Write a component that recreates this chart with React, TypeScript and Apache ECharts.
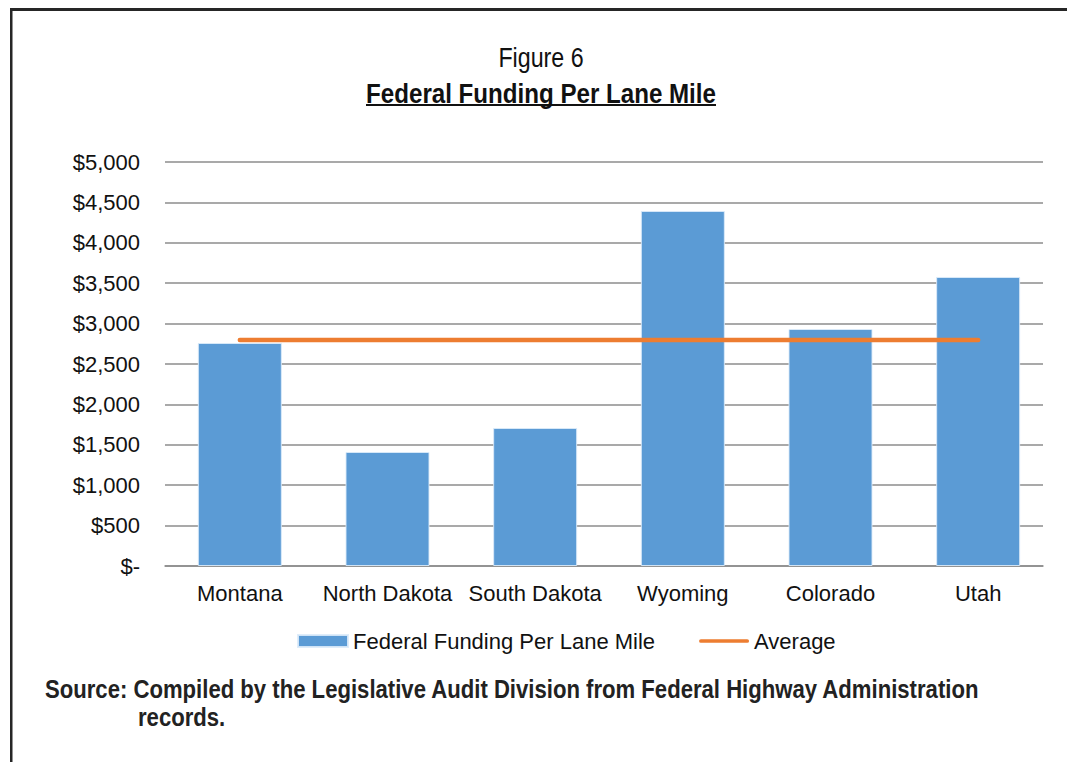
import React, { useEffect, useRef } from "react";
import * as echarts from "echarts";

const categories = ["Montana", "North Dakota", "South Dakota", "Wyoming", "Colorado", "Utah"];
const fundingValues = [2760, 1411, 1708, 4394, 2933, 3577];
const averageValues = [2797, 2797, 2797, 2797, 2797, 2797];
const yTicks = { min: 0, max: 5000, interval: 500 };
const titleLine1 = "Figure 6";
const titleLine2 = "Federal Funding Per Lane Mile";
const sourceLine1 = "Source: Compiled by the Legislative Audit Division from Federal Highway Administration";
const sourceLine2 = "records.";

const FONT = "'Liberation Sans', Arial, Helvetica, sans-serif";
const GRID_COLOR = "#8c8c8c";
const LINE_ICON = "path://M2,0 L52,0 A2,2 0 0 1 52,4 L2,4 A2,2 0 0 1 2,0 Z";

export default function App() {
  const ref = useRef<HTMLDivElement>(null);
  useEffect(() => {
    if (!ref.current) return;
    const chart = echarts.init(ref.current, undefined, { renderer: "svg" });
    chart.setOption({
      animation: false,
      backgroundColor: "#ffffff",
      textStyle: { fontFamily: FONT },
      grid: [
        { left: 165, right: 24, top: 162, bottom: 196, containLabel: false },
        { left: 166, right: 15, top: 162, bottom: 196, containLabel: false },
      ],
      legend: {
        left: 297,
        top: 630,
        padding: 0,
        itemWidth: 50,
        itemHeight: 12,
        itemGap: 44,
        textStyle: { fontSize: 22, color: "#111", fontFamily: FONT },
        data: [
          { name: "Federal Funding Per Lane Mile", icon: "rect" },
          { name: "Average", icon: LINE_ICON, itemStyle: { color: "#ED7D31" } },
        ],
      },
      xAxis: [
        {
          type: "category",
          gridIndex: 0,
          data: categories,
          axisLine: { show: true, lineStyle: { color: GRID_COLOR, width: 1.5 } },
          axisTick: { show: false },
          axisLabel: { show: false },
          splitLine: { show: false },
        },
        {
          type: "category",
          gridIndex: 1,
          data: categories,
          axisLine: { show: false },
          axisTick: { show: false },
          axisLabel: { fontSize: 22, color: "#111", margin: 16, fontFamily: FONT, interval: 0 },
        },
      ],
      yAxis: [
        {
          type: "value",
          gridIndex: 0,
          min: yTicks.min,
          max: yTicks.max,
          interval: yTicks.interval,
          axisLine: { show: false },
          axisTick: { show: false },
          splitLine: { lineStyle: { color: GRID_COLOR, width: 1.5 } },
          axisLabel: {
            fontSize: 22,
            color: "#111",
            margin: 25,
            fontFamily: FONT,
            formatter: (v: number) => (v === 0 ? "$-" : "$" + v.toLocaleString("en-US")),
          },
        },
        {
          type: "value",
          gridIndex: 1,
          min: yTicks.min,
          max: yTicks.max,
          interval: yTicks.interval,
          axisLine: { show: false },
          axisTick: { show: false },
          splitLine: { show: false },
          axisLabel: { show: false },
        },
      ],
      series: [
        {
          name: "Federal Funding Per Lane Mile",
          type: "bar",
          xAxisIndex: 1,
          yAxisIndex: 1,
          data: fundingValues,
          barWidth: 84,
          itemStyle: { color: "#5B9BD5", borderColor: "rgba(220,235,250,0.9)", borderWidth: 1 },
          z: 2,
        },
        {
          name: "Average",
          type: "line",
          xAxisIndex: 1,
          yAxisIndex: 1,
          data: averageValues,
          symbol: "none",
          lineStyle: { color: "#ED7D31", width: 4.5, cap: "round" },
          itemStyle: { color: "#ED7D31" },
          z: 3,
        },
      ],
      graphic: [
        { type: "rect", shape: { x: 10, y: 8, width: 1057, height: 3 }, style: { fill: "#262626" }, silent: true },
        { type: "rect", shape: { x: 10, y: 8, width: 2.5, height: 754 }, style: { fill: "#262626" }, silent: true },
        {
          type: "text",
          x: 541,
          y: 57,
          scaleX: 0.83,
          style: {
            text: titleLine1,
            fontSize: 28,
            fontFamily: FONT,
            fill: "#111",
            align: "center",
            verticalAlign: "middle",
          },
        },
        {
          type: "text",
          x: 541,
          y: 93,
          scaleX: 0.862,
          style: {
            text: titleLine2,
            fontSize: 28,
            fontWeight: "bold",
            fontFamily: FONT,
            fill: "#111",
            align: "center",
            verticalAlign: "middle",
          },
        },
        { type: "rect", shape: { x: 366, y: 104, width: 350, height: 2 }, style: { fill: "#111" }, silent: true },
        {
          type: "text",
          x: 45,
          y: 690,
          scaleX: 0.885,
          style: {
            text: sourceLine1,
            fontSize: 25,
            fontWeight: "bold",
            fontFamily: FONT,
            fill: "#222",
            align: "left",
            verticalAlign: "middle",
          },
        },
        {
          type: "text",
          x: 138,
          y: 718,
          scaleX: 0.885,
          style: {
            text: sourceLine2,
            fontSize: 25,
            fontWeight: "bold",
            fontFamily: FONT,
            fill: "#222",
            align: "left",
            verticalAlign: "middle",
          },
        },
      ],
    });
    return () => chart.dispose();
  }, []);
  return (
    <div
      ref={ref}
      style={{ position: "absolute", left: 0, top: 0, width: 1067, height: 762 }}
    />
  );
}
